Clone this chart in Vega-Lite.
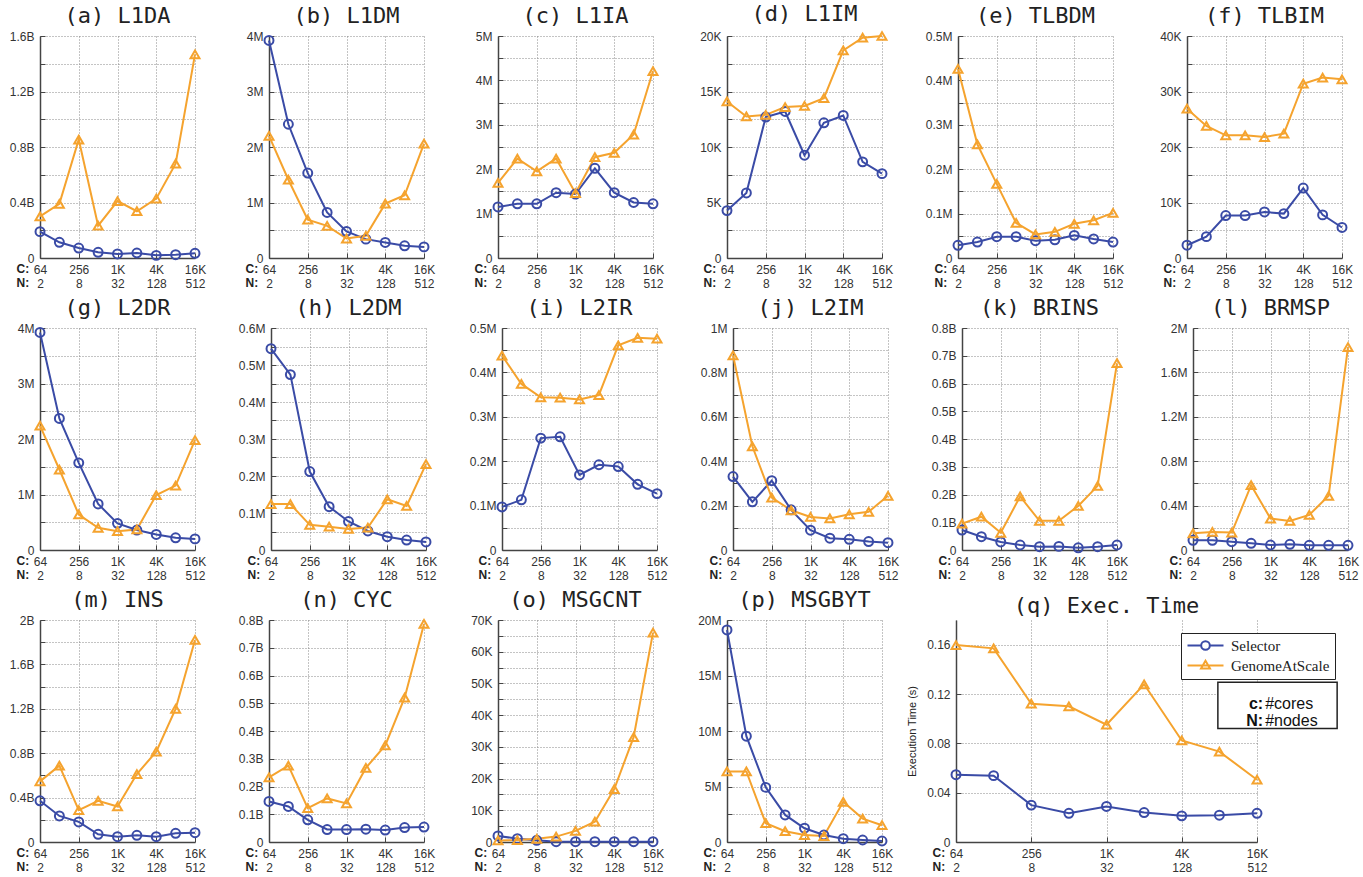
{
"$schema":"https://vega.github.io/schema/vega-lite/v6.json",
"padding":{"left":9,"top":3,"right":5,"bottom":2},
"background":"white",
"data":{"values":[
{"p":"a","s":"Selector","i":0,"v":1.9e8},{"p":"a","s":"Selector","i":1,"v":1.13e8},{"p":"a","s":"Selector","i":2,"v":7.2e7},{"p":"a","s":"Selector","i":3,"v":4.1e7},{"p":"a","s":"Selector","i":4,"v":2.9e7},{"p":"a","s":"Selector","i":5,"v":3.6e7},{"p":"a","s":"Selector","i":6,"v":1.9e7},{"p":"a","s":"Selector","i":7,"v":2.4e7},{"p":"a","s":"Selector","i":8,"v":3.4e7},
{"p":"a","s":"GenomeAtScale","i":0,"v":3.0e8},{"p":"a","s":"GenomeAtScale","i":1,"v":3.9e8},{"p":"a","s":"GenomeAtScale","i":2,"v":8.54e8},{"p":"a","s":"GenomeAtScale","i":3,"v":2.33e8},{"p":"a","s":"GenomeAtScale","i":4,"v":4.1e8},{"p":"a","s":"GenomeAtScale","i":5,"v":3.37e8},{"p":"a","s":"GenomeAtScale","i":6,"v":4.28e8},{"p":"a","s":"GenomeAtScale","i":7,"v":6.8e8},{"p":"a","s":"GenomeAtScale","i":8,"v":1.468e9},
{"p":"b","s":"Selector","i":0,"v":3.92e6},{"p":"b","s":"Selector","i":1,"v":2.41e6},{"p":"b","s":"Selector","i":2,"v":1.53e6},{"p":"b","s":"Selector","i":3,"v":8.2e5},{"p":"b","s":"Selector","i":4,"v":4.8e5},{"p":"b","s":"Selector","i":5,"v":3.4e5},{"p":"b","s":"Selector","i":6,"v":2.8e5},{"p":"b","s":"Selector","i":7,"v":2.2e5},{"p":"b","s":"Selector","i":8,"v":2.0e5},
{"p":"b","s":"GenomeAtScale","i":0,"v":2.2e6},{"p":"b","s":"GenomeAtScale","i":1,"v":1.41e6},{"p":"b","s":"GenomeAtScale","i":2,"v":6.9e5},{"p":"b","s":"GenomeAtScale","i":3,"v":5.8e5},{"p":"b","s":"GenomeAtScale","i":4,"v":3.5e5},{"p":"b","s":"GenomeAtScale","i":5,"v":4.0e5},{"p":"b","s":"GenomeAtScale","i":6,"v":9.8e5},{"p":"b","s":"GenomeAtScale","i":7,"v":1.13e6},{"p":"b","s":"GenomeAtScale","i":8,"v":2.06e6},
{"p":"c","s":"Selector","i":0,"v":1.15e6},{"p":"c","s":"Selector","i":1,"v":1.22e6},{"p":"c","s":"Selector","i":2,"v":1.22e6},{"p":"c","s":"Selector","i":3,"v":1.47e6},{"p":"c","s":"Selector","i":4,"v":1.44e6},{"p":"c","s":"Selector","i":5,"v":2.02e6},{"p":"c","s":"Selector","i":6,"v":1.47e6},{"p":"c","s":"Selector","i":7,"v":1.25e6},{"p":"c","s":"Selector","i":8,"v":1.22e6},
{"p":"c","s":"GenomeAtScale","i":0,"v":1.69e6},{"p":"c","s":"GenomeAtScale","i":1,"v":2.24e6},{"p":"c","s":"GenomeAtScale","i":2,"v":1.95e6},{"p":"c","s":"GenomeAtScale","i":3,"v":2.24e6},{"p":"c","s":"GenomeAtScale","i":4,"v":1.46e6},{"p":"c","s":"GenomeAtScale","i":5,"v":2.27e6},{"p":"c","s":"GenomeAtScale","i":6,"v":2.37e6},{"p":"c","s":"GenomeAtScale","i":7,"v":2.78e6},{"p":"c","s":"GenomeAtScale","i":8,"v":4.21e6},
{"p":"d","s":"Selector","i":0,"v":4270},{"p":"d","s":"Selector","i":1,"v":5860},{"p":"d","s":"Selector","i":2,"v":12700},{"p":"d","s":"Selector","i":3,"v":13200},{"p":"d","s":"Selector","i":4,"v":9260},{"p":"d","s":"Selector","i":5,"v":12180},{"p":"d","s":"Selector","i":6,"v":12840},{"p":"d","s":"Selector","i":7,"v":8660},{"p":"d","s":"Selector","i":8,"v":7600},
{"p":"d","s":"GenomeAtScale","i":0,"v":14100},{"p":"d","s":"GenomeAtScale","i":1,"v":12750},{"p":"d","s":"GenomeAtScale","i":2,"v":12900},{"p":"d","s":"GenomeAtScale","i":3,"v":13600},{"p":"d","s":"GenomeAtScale","i":4,"v":13700},{"p":"d","s":"GenomeAtScale","i":5,"v":14400},{"p":"d","s":"GenomeAtScale","i":6,"v":18700},{"p":"d","s":"GenomeAtScale","i":7,"v":19850},{"p":"d","s":"GenomeAtScale","i":8,"v":20000},
{"p":"e","s":"Selector","i":0,"v":28600},{"p":"e","s":"Selector","i":1,"v":36000},{"p":"e","s":"Selector","i":2,"v":48000},{"p":"e","s":"Selector","i":3,"v":48000},{"p":"e","s":"Selector","i":4,"v":39000},{"p":"e","s":"Selector","i":5,"v":41000},{"p":"e","s":"Selector","i":6,"v":51000},{"p":"e","s":"Selector","i":7,"v":43000},{"p":"e","s":"Selector","i":8,"v":36000},
{"p":"e","s":"GenomeAtScale","i":0,"v":426000},{"p":"e","s":"GenomeAtScale","i":1,"v":256000},{"p":"e","s":"GenomeAtScale","i":2,"v":167000},{"p":"e","s":"GenomeAtScale","i":3,"v":79000},{"p":"e","s":"GenomeAtScale","i":4,"v":53000},{"p":"e","s":"GenomeAtScale","i":5,"v":59000},{"p":"e","s":"GenomeAtScale","i":6,"v":77000},{"p":"e","s":"GenomeAtScale","i":7,"v":85000},{"p":"e","s":"GenomeAtScale","i":8,"v":101500},
{"p":"f","s":"Selector","i":0,"v":2300},{"p":"f","s":"Selector","i":1,"v":3850},{"p":"f","s":"Selector","i":2,"v":7650},{"p":"f","s":"Selector","i":3,"v":7650},{"p":"f","s":"Selector","i":4,"v":8300},{"p":"f","s":"Selector","i":5,"v":8000},{"p":"f","s":"Selector","i":6,"v":12600},{"p":"f","s":"Selector","i":7,"v":7770},{"p":"f","s":"Selector","i":8,"v":5500},
{"p":"f","s":"GenomeAtScale","i":0,"v":26900},{"p":"f","s":"GenomeAtScale","i":1,"v":23800},{"p":"f","s":"GenomeAtScale","i":2,"v":22100},{"p":"f","s":"GenomeAtScale","i":3,"v":22100},{"p":"f","s":"GenomeAtScale","i":4,"v":21800},{"p":"f","s":"GenomeAtScale","i":5,"v":22400},{"p":"f","s":"GenomeAtScale","i":6,"v":31400},{"p":"f","s":"GenomeAtScale","i":7,"v":32500},{"p":"f","s":"GenomeAtScale","i":8,"v":32200},
{"p":"g","s":"Selector","i":0,"v":3.92e6},{"p":"g","s":"Selector","i":1,"v":2.37e6},{"p":"g","s":"Selector","i":2,"v":1.57e6},{"p":"g","s":"Selector","i":3,"v":8.3e5},{"p":"g","s":"Selector","i":4,"v":4.8e5},{"p":"g","s":"Selector","i":5,"v":3.6e5},{"p":"g","s":"Selector","i":6,"v":2.8e5},{"p":"g","s":"Selector","i":7,"v":2.2e5},{"p":"g","s":"Selector","i":8,"v":2.0e5},
{"p":"g","s":"GenomeAtScale","i":0,"v":2.24e6},{"p":"g","s":"GenomeAtScale","i":1,"v":1.45e6},{"p":"g","s":"GenomeAtScale","i":2,"v":6.4e5},{"p":"g","s":"GenomeAtScale","i":3,"v":4.0e5},{"p":"g","s":"GenomeAtScale","i":4,"v":3.4e5},{"p":"g","s":"GenomeAtScale","i":5,"v":3.7e5},{"p":"g","s":"GenomeAtScale","i":6,"v":9.9e5},{"p":"g","s":"GenomeAtScale","i":7,"v":1.16e6},{"p":"g","s":"GenomeAtScale","i":8,"v":1.98e6},
{"p":"h","s":"Selector","i":0,"v":544000},{"p":"h","s":"Selector","i":1,"v":474000},{"p":"h","s":"Selector","i":2,"v":212000},{"p":"h","s":"Selector","i":3,"v":117000},{"p":"h","s":"Selector","i":4,"v":77000},{"p":"h","s":"Selector","i":5,"v":51500},{"p":"h","s":"Selector","i":6,"v":36000},{"p":"h","s":"Selector","i":7,"v":27000},{"p":"h","s":"Selector","i":8,"v":21700},
{"p":"h","s":"GenomeAtScale","i":0,"v":124000},{"p":"h","s":"GenomeAtScale","i":1,"v":124000},{"p":"h","s":"GenomeAtScale","i":2,"v":68000},{"p":"h","s":"GenomeAtScale","i":3,"v":63000},{"p":"h","s":"GenomeAtScale","i":4,"v":57000},{"p":"h","s":"GenomeAtScale","i":5,"v":60500},{"p":"h","s":"GenomeAtScale","i":6,"v":137000},{"p":"h","s":"GenomeAtScale","i":7,"v":119000},{"p":"h","s":"GenomeAtScale","i":8,"v":232000},
{"p":"i","s":"Selector","i":0,"v":97000},{"p":"i","s":"Selector","i":1,"v":113000},{"p":"i","s":"Selector","i":2,"v":252000},{"p":"i","s":"Selector","i":3,"v":255000},{"p":"i","s":"Selector","i":4,"v":169000},{"p":"i","s":"Selector","i":5,"v":192000},{"p":"i","s":"Selector","i":6,"v":188000},{"p":"i","s":"Selector","i":7,"v":148000},{"p":"i","s":"Selector","i":8,"v":127000},
{"p":"i","s":"GenomeAtScale","i":0,"v":438000},{"p":"i","s":"GenomeAtScale","i":1,"v":374000},{"p":"i","s":"GenomeAtScale","i":2,"v":344000},{"p":"i","s":"GenomeAtScale","i":3,"v":343000},{"p":"i","s":"GenomeAtScale","i":4,"v":339000},{"p":"i","s":"GenomeAtScale","i":5,"v":349000},{"p":"i","s":"GenomeAtScale","i":6,"v":461000},{"p":"i","s":"GenomeAtScale","i":7,"v":478000},{"p":"i","s":"GenomeAtScale","i":8,"v":476000},
{"p":"j","s":"Selector","i":0,"v":331000},{"p":"j","s":"Selector","i":1,"v":217000},{"p":"j","s":"Selector","i":2,"v":312000},{"p":"j","s":"Selector","i":3,"v":181000},{"p":"j","s":"Selector","i":4,"v":89000},{"p":"j","s":"Selector","i":5,"v":53000},{"p":"j","s":"Selector","i":6,"v":48000},{"p":"j","s":"Selector","i":7,"v":38000},{"p":"j","s":"Selector","i":8,"v":33000},
{"p":"j","s":"GenomeAtScale","i":0,"v":877000},{"p":"j","s":"GenomeAtScale","i":1,"v":467000},{"p":"j","s":"GenomeAtScale","i":2,"v":236000},{"p":"j","s":"GenomeAtScale","i":3,"v":179000},{"p":"j","s":"GenomeAtScale","i":4,"v":149000},{"p":"j","s":"GenomeAtScale","i":5,"v":142000},{"p":"j","s":"GenomeAtScale","i":6,"v":161000},{"p":"j","s":"GenomeAtScale","i":7,"v":172000},{"p":"j","s":"GenomeAtScale","i":8,"v":244000},
{"p":"k","s":"Selector","i":0,"v":7.2e7},{"p":"k","s":"Selector","i":1,"v":4.8e7},{"p":"k","s":"Selector","i":2,"v":2.9e7},{"p":"k","s":"Selector","i":3,"v":1.8e7},{"p":"k","s":"Selector","i":4,"v":1.2e7},{"p":"k","s":"Selector","i":5,"v":1.3e7},{"p":"k","s":"Selector","i":6,"v":8e6},{"p":"k","s":"Selector","i":7,"v":1.2e7},{"p":"k","s":"Selector","i":8,"v":1.8e7},
{"p":"k","s":"GenomeAtScale","i":0,"v":9.5e7},{"p":"k","s":"GenomeAtScale","i":1,"v":1.2e8},{"p":"k","s":"GenomeAtScale","i":2,"v":6.2e7},{"p":"k","s":"GenomeAtScale","i":3,"v":1.93e8},{"p":"k","s":"GenomeAtScale","i":4,"v":1.05e8},{"p":"k","s":"GenomeAtScale","i":5,"v":1.05e8},{"p":"k","s":"GenomeAtScale","i":6,"v":1.59e8},{"p":"k","s":"GenomeAtScale","i":7,"v":2.31e8},{"p":"k","s":"GenomeAtScale","i":8,"v":6.73e8},
{"p":"l","s":"Selector","i":0,"v":87000},{"p":"l","s":"Selector","i":1,"v":87000},{"p":"l","s":"Selector","i":2,"v":75000},{"p":"l","s":"Selector","i":3,"v":60000},{"p":"l","s":"Selector","i":4,"v":45000},{"p":"l","s":"Selector","i":5,"v":51000},{"p":"l","s":"Selector","i":6,"v":42000},{"p":"l","s":"Selector","i":7,"v":42000},{"p":"l","s":"Selector","i":8,"v":42000},
{"p":"l","s":"GenomeAtScale","i":0,"v":150000},{"p":"l","s":"GenomeAtScale","i":1,"v":163000},{"p":"l","s":"GenomeAtScale","i":2,"v":157000},{"p":"l","s":"GenomeAtScale","i":3,"v":584000},{"p":"l","s":"GenomeAtScale","i":4,"v":283000},{"p":"l","s":"GenomeAtScale","i":5,"v":262000},{"p":"l","s":"GenomeAtScale","i":6,"v":316000},{"p":"l","s":"GenomeAtScale","i":7,"v":488000},{"p":"l","s":"GenomeAtScale","i":8,"v":1828000},
{"p":"m","s":"Selector","i":0,"v":3.71e8},{"p":"m","s":"Selector","i":1,"v":2.35e8},{"p":"m","s":"Selector","i":2,"v":1.81e8},{"p":"m","s":"Selector","i":3,"v":6.9e7},{"p":"m","s":"Selector","i":4,"v":4.8e7},{"p":"m","s":"Selector","i":5,"v":6.0e7},{"p":"m","s":"Selector","i":6,"v":4.8e7},{"p":"m","s":"Selector","i":7,"v":7.8e7},{"p":"m","s":"Selector","i":8,"v":8.4e7},
{"p":"m","s":"GenomeAtScale","i":0,"v":5.46e8},{"p":"m","s":"GenomeAtScale","i":1,"v":6.88e8},{"p":"m","s":"GenomeAtScale","i":2,"v":2.87e8},{"p":"m","s":"GenomeAtScale","i":3,"v":3.71e8},{"p":"m","s":"GenomeAtScale","i":4,"v":3.2e8},{"p":"m","s":"GenomeAtScale","i":5,"v":6.12e8},{"p":"m","s":"GenomeAtScale","i":6,"v":8.14e8},{"p":"m","s":"GenomeAtScale","i":7,"v":1.2e9},{"p":"m","s":"GenomeAtScale","i":8,"v":1.82e9},
{"p":"n","s":"Selector","i":0,"v":1.46e8},{"p":"n","s":"Selector","i":1,"v":1.28e8},{"p":"n","s":"Selector","i":2,"v":8.0e7},{"p":"n","s":"Selector","i":3,"v":4.5e7},{"p":"n","s":"Selector","i":4,"v":4.5e7},{"p":"n","s":"Selector","i":5,"v":4.6e7},{"p":"n","s":"Selector","i":6,"v":4.3e7},{"p":"n","s":"Selector","i":7,"v":5.2e7},{"p":"n","s":"Selector","i":8,"v":5.4e7},
{"p":"n","s":"GenomeAtScale","i":0,"v":2.33e8},{"p":"n","s":"GenomeAtScale","i":1,"v":2.75e8},{"p":"n","s":"GenomeAtScale","i":2,"v":1.22e8},{"p":"n","s":"GenomeAtScale","i":3,"v":1.57e8},{"p":"n","s":"GenomeAtScale","i":4,"v":1.39e8},{"p":"n","s":"GenomeAtScale","i":5,"v":2.67e8},{"p":"n","s":"GenomeAtScale","i":6,"v":3.48e8},{"p":"n","s":"GenomeAtScale","i":7,"v":5.2e8},{"p":"n","s":"GenomeAtScale","i":8,"v":7.86e8},
{"p":"o","s":"Selector","i":0,"v":1900},{"p":"o","s":"Selector","i":1,"v":1060},{"p":"o","s":"Selector","i":2,"v":530},{"p":"o","s":"Selector","i":3,"v":100},{"p":"o","s":"Selector","i":4,"v":100},{"p":"o","s":"Selector","i":5,"v":100},{"p":"o","s":"Selector","i":6,"v":100},{"p":"o","s":"Selector","i":7,"v":100},{"p":"o","s":"Selector","i":8,"v":100},
{"p":"o","s":"GenomeAtScale","i":0,"v":500},{"p":"o","s":"GenomeAtScale","i":1,"v":600},{"p":"o","s":"GenomeAtScale","i":2,"v":1000},{"p":"o","s":"GenomeAtScale","i":3,"v":1700},{"p":"o","s":"GenomeAtScale","i":4,"v":3500},{"p":"o","s":"GenomeAtScale","i":5,"v":6400},{"p":"o","s":"GenomeAtScale","i":6,"v":16700},{"p":"o","s":"GenomeAtScale","i":7,"v":33050},{"p":"o","s":"GenomeAtScale","i":8,"v":66000},
{"p":"p","s":"Selector","i":0,"v":1.91e7},{"p":"p","s":"Selector","i":1,"v":9.53e6},{"p":"p","s":"Selector","i":2,"v":4.92e6},{"p":"p","s":"Selector","i":3,"v":2.44e6},{"p":"p","s":"Selector","i":4,"v":1.24e6},{"p":"p","s":"Selector","i":5,"v":6.3e5},{"p":"p","s":"Selector","i":6,"v":3.0e5},{"p":"p","s":"Selector","i":7,"v":1.8e5},{"p":"p","s":"Selector","i":8,"v":9e4},
{"p":"p","s":"GenomeAtScale","i":0,"v":6.36e6},{"p":"p","s":"GenomeAtScale","i":1,"v":6.36e6},{"p":"p","s":"GenomeAtScale","i":2,"v":1.69e6},{"p":"p","s":"GenomeAtScale","i":3,"v":9.7e5},{"p":"p","s":"GenomeAtScale","i":4,"v":6.3e5},{"p":"p","s":"GenomeAtScale","i":5,"v":5.4e5},{"p":"p","s":"GenomeAtScale","i":6,"v":3.62e6},{"p":"p","s":"GenomeAtScale","i":7,"v":2.11e6},{"p":"p","s":"GenomeAtScale","i":8,"v":1.51e6},
{"p":"q","s":"Selector","i":0,"v":0.0546},{"p":"q","s":"Selector","i":1,"v":0.0538},{"p":"q","s":"Selector","i":2,"v":0.0299},{"p":"q","s":"Selector","i":3,"v":0.0233},{"p":"q","s":"Selector","i":4,"v":0.0288},{"p":"q","s":"Selector","i":5,"v":0.0239},{"p":"q","s":"Selector","i":6,"v":0.0212},{"p":"q","s":"Selector","i":7,"v":0.0217},{"p":"q","s":"Selector","i":8,"v":0.0233},
{"p":"q","s":"GenomeAtScale","i":0,"v":0.1597},{"p":"q","s":"GenomeAtScale","i":1,"v":0.157},{"p":"q","s":"GenomeAtScale","i":2,"v":0.1121},{"p":"q","s":"GenomeAtScale","i":3,"v":0.11},{"p":"q","s":"GenomeAtScale","i":4,"v":0.0951},{"p":"q","s":"GenomeAtScale","i":5,"v":0.1279},{"p":"q","s":"GenomeAtScale","i":6,"v":0.0823},{"p":"q","s":"GenomeAtScale","i":7,"v":0.0733},{"p":"q","s":"GenomeAtScale","i":8,"v":0.0505}
]},
"spacing":8,
"resolve":{"scale":{"color":"independent","shape":"independent"},"legend":{"color":"independent","shape":"independent"}},
"vconcat":[
{"hconcat":[
{"title":"(a) L1DA","width":155,"height":222,"transform":[{"filter":"datum.p=='a'"}],
"encoding":{"x":{"field":"i","type":"quantitative","scale":{"domain":[0,8],"nice":false},"axis":{"values":[0,2,4,6,8],"labelExpr":"datum.value==0?['64','2']:datum.value==2?['256','8']:datum.value==4?['1K','32']:datum.value==6?['4K','128']:['16K','512']","title":["C:","N:"]}},
"y":{"field":"v","type":"quantitative","scale":{"domain":[0,1600000000],"nice":false},"axis":{"title":null,"values":[0,200000000,400000000,600000000,800000000,1000000000,1200000000,1400000000,1600000000],"labelExpr":"datum.value % 400000000 == 0 ? (datum.value == 0 ? '0' : format(datum.value/1000000000,'~g') + 'B') : ''"}},
"color":{"field":"s","type":"nominal","scale":{"domain":["Selector","GenomeAtScale"],"range":["#3a4ba6","#f5a32e"]},"legend":null}},
"layer":[{"mark":{"type":"line","strokeWidth":2}},{"mark":{"type":"point","filled":false,"strokeWidth":2,"size":80,"opacity":1},"encoding":{"shape":{"field":"s","type":"nominal","scale":{"domain":["Selector","GenomeAtScale"],"range":["circle","triangle-up"]},"legend":null}}}]},
{"title":"(b) L1DM","width":155,"height":222,"transform":[{"filter":"datum.p=='b'"}],
"encoding":{"x":{"field":"i","type":"quantitative","scale":{"domain":[0,8],"nice":false},"axis":{"values":[0,2,4,6,8],"labelExpr":"datum.value==0?['64','2']:datum.value==2?['256','8']:datum.value==4?['1K','32']:datum.value==6?['4K','128']:['16K','512']","title":["C:","N:"]}},
"y":{"field":"v","type":"quantitative","scale":{"domain":[0,4000000],"nice":false},"axis":{"title":null,"values":[0,500000,1000000,1500000,2000000,2500000,3000000,3500000,4000000],"labelExpr":"datum.value % 1000000 == 0 ? (datum.value == 0 ? '0' : format(datum.value/1000000,'~g') + 'M') : ''"}},
"color":{"field":"s","type":"nominal","scale":{"domain":["Selector","GenomeAtScale"],"range":["#3a4ba6","#f5a32e"]},"legend":null}},
"layer":[{"mark":{"type":"line","strokeWidth":2}},{"mark":{"type":"point","filled":false,"strokeWidth":2,"size":80,"opacity":1},"encoding":{"shape":{"field":"s","type":"nominal","scale":{"domain":["Selector","GenomeAtScale"],"range":["circle","triangle-up"]},"legend":null}}}]},
{"title":"(c) L1IA","width":155,"height":222,"transform":[{"filter":"datum.p=='c'"}],
"encoding":{"x":{"field":"i","type":"quantitative","scale":{"domain":[0,8],"nice":false},"axis":{"values":[0,2,4,6,8],"labelExpr":"datum.value==0?['64','2']:datum.value==2?['256','8']:datum.value==4?['1K','32']:datum.value==6?['4K','128']:['16K','512']","title":["C:","N:"]}},
"y":{"field":"v","type":"quantitative","scale":{"domain":[0,5000000],"nice":false},"axis":{"title":null,"values":[0,500000,1000000,1500000,2000000,2500000,3000000,3500000,4000000,4500000,5000000],"labelExpr":"datum.value % 1000000 == 0 ? (datum.value == 0 ? '0' : format(datum.value/1000000,'~g') + 'M') : ''"}},
"color":{"field":"s","type":"nominal","scale":{"domain":["Selector","GenomeAtScale"],"range":["#3a4ba6","#f5a32e"]},"legend":null}},
"layer":[{"mark":{"type":"line","strokeWidth":2}},{"mark":{"type":"point","filled":false,"strokeWidth":2,"size":80,"opacity":1},"encoding":{"shape":{"field":"s","type":"nominal","scale":{"domain":["Selector","GenomeAtScale"],"range":["circle","triangle-up"]},"legend":null}}}]},
{"title":"(d) L1IM","width":155,"height":222,"transform":[{"filter":"datum.p=='d'"}],
"encoding":{"x":{"field":"i","type":"quantitative","scale":{"domain":[0,8],"nice":false},"axis":{"values":[0,2,4,6,8],"labelExpr":"datum.value==0?['64','2']:datum.value==2?['256','8']:datum.value==4?['1K','32']:datum.value==6?['4K','128']:['16K','512']","title":["C:","N:"]}},
"y":{"field":"v","type":"quantitative","scale":{"domain":[0,20000],"nice":false},"axis":{"title":null,"values":[0,2500,5000,7500,10000,12500,15000,17500,20000],"labelExpr":"datum.value % 5000 == 0 ? (datum.value == 0 ? '0' : format(datum.value/1000,'~g') + 'K') : ''"}},
"color":{"field":"s","type":"nominal","scale":{"domain":["Selector","GenomeAtScale"],"range":["#3a4ba6","#f5a32e"]},"legend":null}},
"layer":[{"mark":{"type":"line","strokeWidth":2}},{"mark":{"type":"point","filled":false,"strokeWidth":2,"size":80,"opacity":1},"encoding":{"shape":{"field":"s","type":"nominal","scale":{"domain":["Selector","GenomeAtScale"],"range":["circle","triangle-up"]},"legend":null}}}]},
{"title":"(e) TLBDM","width":155,"height":222,"transform":[{"filter":"datum.p=='e'"}],
"encoding":{"x":{"field":"i","type":"quantitative","scale":{"domain":[0,8],"nice":false},"axis":{"values":[0,2,4,6,8],"labelExpr":"datum.value==0?['64','2']:datum.value==2?['256','8']:datum.value==4?['1K','32']:datum.value==6?['4K','128']:['16K','512']","title":["C:","N:"]}},
"y":{"field":"v","type":"quantitative","scale":{"domain":[0,500000],"nice":false},"axis":{"title":null,"values":[0,50000,100000,150000,200000,250000,300000,350000,400000,450000,500000],"labelExpr":"datum.value % 100000 == 0 ? (datum.value == 0 ? '0' : format(datum.value/1000000,'~g') + 'M') : ''"}},
"color":{"field":"s","type":"nominal","scale":{"domain":["Selector","GenomeAtScale"],"range":["#3a4ba6","#f5a32e"]},"legend":null}},
"layer":[{"mark":{"type":"line","strokeWidth":2}},{"mark":{"type":"point","filled":false,"strokeWidth":2,"size":80,"opacity":1},"encoding":{"shape":{"field":"s","type":"nominal","scale":{"domain":["Selector","GenomeAtScale"],"range":["circle","triangle-up"]},"legend":null}}}]},
{"title":"(f) TLBIM","width":155,"height":222,"transform":[{"filter":"datum.p=='f'"}],
"encoding":{"x":{"field":"i","type":"quantitative","scale":{"domain":[0,8],"nice":false},"axis":{"values":[0,2,4,6,8],"labelExpr":"datum.value==0?['64','2']:datum.value==2?['256','8']:datum.value==4?['1K','32']:datum.value==6?['4K','128']:['16K','512']","title":["C:","N:"]}},
"y":{"field":"v","type":"quantitative","scale":{"domain":[0,40000],"nice":false},"axis":{"title":null,"values":[0,5000,10000,15000,20000,25000,30000,35000,40000],"labelExpr":"datum.value % 10000 == 0 ? (datum.value == 0 ? '0' : format(datum.value/1000,'~g') + 'K') : ''"}},
"color":{"field":"s","type":"nominal","scale":{"domain":["Selector","GenomeAtScale"],"range":["#3a4ba6","#f5a32e"]},"legend":null}},
"layer":[{"mark":{"type":"line","strokeWidth":2}},{"mark":{"type":"point","filled":false,"strokeWidth":2,"size":80,"opacity":1},"encoding":{"shape":{"field":"s","type":"nominal","scale":{"domain":["Selector","GenomeAtScale"],"range":["circle","triangle-up"]},"legend":null}}}]}
],"spacing":32,"resolve":{"scale":{"color":"independent","shape":"independent"},"legend":{"color":"independent","shape":"independent"}}},
{"hconcat":[
{"title":"(g) L2DR","width":155,"height":222,"transform":[{"filter":"datum.p=='g'"}],
"encoding":{"x":{"field":"i","type":"quantitative","scale":{"domain":[0,8],"nice":false},"axis":{"values":[0,2,4,6,8],"labelExpr":"datum.value==0?['64','2']:datum.value==2?['256','8']:datum.value==4?['1K','32']:datum.value==6?['4K','128']:['16K','512']","title":["C:","N:"]}},
"y":{"field":"v","type":"quantitative","scale":{"domain":[0,4000000],"nice":false},"axis":{"title":null,"values":[0,500000,1000000,1500000,2000000,2500000,3000000,3500000,4000000],"labelExpr":"datum.value % 1000000 == 0 ? (datum.value == 0 ? '0' : format(datum.value/1000000,'~g') + 'M') : ''"}},
"color":{"field":"s","type":"nominal","scale":{"domain":["Selector","GenomeAtScale"],"range":["#3a4ba6","#f5a32e"]},"legend":null}},
"layer":[{"mark":{"type":"line","strokeWidth":2}},{"mark":{"type":"point","filled":false,"strokeWidth":2,"size":80,"opacity":1},"encoding":{"shape":{"field":"s","type":"nominal","scale":{"domain":["Selector","GenomeAtScale"],"range":["circle","triangle-up"]},"legend":null}}}]},
{"title":"(h) L2DM","width":155,"height":222,"transform":[{"filter":"datum.p=='h'"}],
"encoding":{"x":{"field":"i","type":"quantitative","scale":{"domain":[0,8],"nice":false},"axis":{"values":[0,2,4,6,8],"labelExpr":"datum.value==0?['64','2']:datum.value==2?['256','8']:datum.value==4?['1K','32']:datum.value==6?['4K','128']:['16K','512']","title":["C:","N:"]}},
"y":{"field":"v","type":"quantitative","scale":{"domain":[0,600000],"nice":false},"axis":{"title":null,"values":[0,50000,100000,150000,200000,250000,300000,350000,400000,450000,500000,550000,600000],"labelExpr":"datum.value % 100000 == 0 ? (datum.value == 0 ? '0' : format(datum.value/1000000,'~g') + 'M') : ''"}},
"color":{"field":"s","type":"nominal","scale":{"domain":["Selector","GenomeAtScale"],"range":["#3a4ba6","#f5a32e"]},"legend":null}},
"layer":[{"mark":{"type":"line","strokeWidth":2}},{"mark":{"type":"point","filled":false,"strokeWidth":2,"size":80,"opacity":1},"encoding":{"shape":{"field":"s","type":"nominal","scale":{"domain":["Selector","GenomeAtScale"],"range":["circle","triangle-up"]},"legend":null}}}]},
{"title":"(i) L2IR","width":155,"height":222,"transform":[{"filter":"datum.p=='i'"}],
"encoding":{"x":{"field":"i","type":"quantitative","scale":{"domain":[0,8],"nice":false},"axis":{"values":[0,2,4,6,8],"labelExpr":"datum.value==0?['64','2']:datum.value==2?['256','8']:datum.value==4?['1K','32']:datum.value==6?['4K','128']:['16K','512']","title":["C:","N:"]}},
"y":{"field":"v","type":"quantitative","scale":{"domain":[0,500000],"nice":false},"axis":{"title":null,"values":[0,50000,100000,150000,200000,250000,300000,350000,400000,450000,500000],"labelExpr":"datum.value % 100000 == 0 ? (datum.value == 0 ? '0' : format(datum.value/1000000,'~g') + 'M') : ''"}},
"color":{"field":"s","type":"nominal","scale":{"domain":["Selector","GenomeAtScale"],"range":["#3a4ba6","#f5a32e"]},"legend":null}},
"layer":[{"mark":{"type":"line","strokeWidth":2}},{"mark":{"type":"point","filled":false,"strokeWidth":2,"size":80,"opacity":1},"encoding":{"shape":{"field":"s","type":"nominal","scale":{"domain":["Selector","GenomeAtScale"],"range":["circle","triangle-up"]},"legend":null}}}]},
{"title":"(j) L2IM","width":155,"height":222,"transform":[{"filter":"datum.p=='j'"}],
"encoding":{"x":{"field":"i","type":"quantitative","scale":{"domain":[0,8],"nice":false},"axis":{"values":[0,2,4,6,8],"labelExpr":"datum.value==0?['64','2']:datum.value==2?['256','8']:datum.value==4?['1K','32']:datum.value==6?['4K','128']:['16K','512']","title":["C:","N:"]}},
"y":{"field":"v","type":"quantitative","scale":{"domain":[0,1000000],"nice":false},"axis":{"title":null,"values":[0,100000,200000,300000,400000,500000,600000,700000,800000,900000,1000000],"labelExpr":"datum.value % 200000 == 0 ? (datum.value == 0 ? '0' : format(datum.value/1000000,'~g') + 'M') : ''"}},
"color":{"field":"s","type":"nominal","scale":{"domain":["Selector","GenomeAtScale"],"range":["#3a4ba6","#f5a32e"]},"legend":null}},
"layer":[{"mark":{"type":"line","strokeWidth":2}},{"mark":{"type":"point","filled":false,"strokeWidth":2,"size":80,"opacity":1},"encoding":{"shape":{"field":"s","type":"nominal","scale":{"domain":["Selector","GenomeAtScale"],"range":["circle","triangle-up"]},"legend":null}}}]},
{"title":"(k) BRINS","width":155,"height":222,"transform":[{"filter":"datum.p=='k'"}],
"encoding":{"x":{"field":"i","type":"quantitative","scale":{"domain":[0,8],"nice":false},"axis":{"values":[0,2,4,6,8],"labelExpr":"datum.value==0?['64','2']:datum.value==2?['256','8']:datum.value==4?['1K','32']:datum.value==6?['4K','128']:['16K','512']","title":["C:","N:"]}},
"y":{"field":"v","type":"quantitative","scale":{"domain":[0,800000000],"nice":false},"axis":{"title":null,"values":[0,100000000,200000000,300000000,400000000,500000000,600000000,700000000,800000000],"labelExpr":"datum.value == 0 ? '0' : format(datum.value/1000000000,'~g') + 'B'"}},
"color":{"field":"s","type":"nominal","scale":{"domain":["Selector","GenomeAtScale"],"range":["#3a4ba6","#f5a32e"]},"legend":null}},
"layer":[{"mark":{"type":"line","strokeWidth":2}},{"mark":{"type":"point","filled":false,"strokeWidth":2,"size":80,"opacity":1},"encoding":{"shape":{"field":"s","type":"nominal","scale":{"domain":["Selector","GenomeAtScale"],"range":["circle","triangle-up"]},"legend":null}}}]},
{"title":"(l) BRMSP","width":155,"height":222,"transform":[{"filter":"datum.p=='l'"}],
"encoding":{"x":{"field":"i","type":"quantitative","scale":{"domain":[0,8],"nice":false},"axis":{"values":[0,2,4,6,8],"labelExpr":"datum.value==0?['64','2']:datum.value==2?['256','8']:datum.value==4?['1K','32']:datum.value==6?['4K','128']:['16K','512']","title":["C:","N:"]}},
"y":{"field":"v","type":"quantitative","scale":{"domain":[0,2000000],"nice":false},"axis":{"title":null,"values":[0,200000,400000,600000,800000,1000000,1200000,1400000,1600000,1800000,2000000],"labelExpr":"datum.value % 400000 == 0 ? (datum.value == 0 ? '0' : format(datum.value/1000000,'~g') + 'M') : ''"}},
"color":{"field":"s","type":"nominal","scale":{"domain":["Selector","GenomeAtScale"],"range":["#3a4ba6","#f5a32e"]},"legend":null}},
"layer":[{"mark":{"type":"line","strokeWidth":2}},{"mark":{"type":"point","filled":false,"strokeWidth":2,"size":80,"opacity":1},"encoding":{"shape":{"field":"s","type":"nominal","scale":{"domain":["Selector","GenomeAtScale"],"range":["circle","triangle-up"]},"legend":null}}}]}
],"spacing":32,"resolve":{"scale":{"color":"independent","shape":"independent"},"legend":{"color":"independent","shape":"independent"}}},
{"hconcat":[
{"hconcat":[
{"title":"(m) INS","width":155,"height":222,"transform":[{"filter":"datum.p=='m'"}],
"encoding":{"x":{"field":"i","type":"quantitative","scale":{"domain":[0,8],"nice":false},"axis":{"values":[0,2,4,6,8],"labelExpr":"datum.value==0?['64','2']:datum.value==2?['256','8']:datum.value==4?['1K','32']:datum.value==6?['4K','128']:['16K','512']","title":["C:","N:"]}},
"y":{"field":"v","type":"quantitative","scale":{"domain":[0,2000000000],"nice":false},"axis":{"title":null,"values":[0,200000000,400000000,600000000,800000000,1000000000,1200000000,1400000000,1600000000,1800000000,2000000000],"labelExpr":"datum.value % 400000000 == 0 ? (datum.value == 0 ? '0' : format(datum.value/1000000000,'~g') + 'B') : ''"}},
"color":{"field":"s","type":"nominal","scale":{"domain":["Selector","GenomeAtScale"],"range":["#3a4ba6","#f5a32e"]},"legend":null}},
"layer":[{"mark":{"type":"line","strokeWidth":2}},{"mark":{"type":"point","filled":false,"strokeWidth":2,"size":80,"opacity":1},"encoding":{"shape":{"field":"s","type":"nominal","scale":{"domain":["Selector","GenomeAtScale"],"range":["circle","triangle-up"]},"legend":null}}}]},
{"title":"(n) CYC","width":155,"height":222,"transform":[{"filter":"datum.p=='n'"}],
"encoding":{"x":{"field":"i","type":"quantitative","scale":{"domain":[0,8],"nice":false},"axis":{"values":[0,2,4,6,8],"labelExpr":"datum.value==0?['64','2']:datum.value==2?['256','8']:datum.value==4?['1K','32']:datum.value==6?['4K','128']:['16K','512']","title":["C:","N:"]}},
"y":{"field":"v","type":"quantitative","scale":{"domain":[0,800000000],"nice":false},"axis":{"title":null,"values":[0,100000000,200000000,300000000,400000000,500000000,600000000,700000000,800000000],"labelExpr":"datum.value == 0 ? '0' : format(datum.value/1000000000,'~g') + 'B'"}},
"color":{"field":"s","type":"nominal","scale":{"domain":["Selector","GenomeAtScale"],"range":["#3a4ba6","#f5a32e"]},"legend":null}},
"layer":[{"mark":{"type":"line","strokeWidth":2}},{"mark":{"type":"point","filled":false,"strokeWidth":2,"size":80,"opacity":1},"encoding":{"shape":{"field":"s","type":"nominal","scale":{"domain":["Selector","GenomeAtScale"],"range":["circle","triangle-up"]},"legend":null}}}]},
{"title":"(o) MSGCNT","width":155,"height":222,"transform":[{"filter":"datum.p=='o'"}],
"encoding":{"x":{"field":"i","type":"quantitative","scale":{"domain":[0,8],"nice":false},"axis":{"values":[0,2,4,6,8],"labelExpr":"datum.value==0?['64','2']:datum.value==2?['256','8']:datum.value==4?['1K','32']:datum.value==6?['4K','128']:['16K','512']","title":["C:","N:"]}},
"y":{"field":"v","type":"quantitative","scale":{"domain":[0,70000],"nice":false},"axis":{"title":null,"values":[0,5000,10000,15000,20000,25000,30000,35000,40000,45000,50000,55000,60000,65000,70000],"labelExpr":"datum.value % 10000 == 0 ? (datum.value == 0 ? '0' : format(datum.value/1000,'~g') + 'K') : ''"}},
"color":{"field":"s","type":"nominal","scale":{"domain":["Selector","GenomeAtScale"],"range":["#3a4ba6","#f5a32e"]},"legend":null}},
"layer":[{"mark":{"type":"line","strokeWidth":2}},{"mark":{"type":"point","filled":false,"strokeWidth":2,"size":80,"opacity":1},"encoding":{"shape":{"field":"s","type":"nominal","scale":{"domain":["Selector","GenomeAtScale"],"range":["circle","triangle-up"]},"legend":null}}}]},
{"title":"(p) MSGBYT","width":155,"height":222,"transform":[{"filter":"datum.p=='p'"}],
"encoding":{"x":{"field":"i","type":"quantitative","scale":{"domain":[0,8],"nice":false},"axis":{"values":[0,2,4,6,8],"labelExpr":"datum.value==0?['64','2']:datum.value==2?['256','8']:datum.value==4?['1K','32']:datum.value==6?['4K','128']:['16K','512']","title":["C:","N:"]}},
"y":{"field":"v","type":"quantitative","scale":{"domain":[0,20000000],"nice":false},"axis":{"title":null,"values":[0,2500000,5000000,7500000,10000000,12500000,15000000,17500000,20000000],"labelExpr":"datum.value % 5000000 == 0 ? (datum.value == 0 ? '0' : format(datum.value/1000000,'~g') + 'M') : ''"}},
"color":{"field":"s","type":"nominal","scale":{"domain":["Selector","GenomeAtScale"],"range":["#3a4ba6","#f5a32e"]},"legend":null}},
"layer":[{"mark":{"type":"line","strokeWidth":2}},{"mark":{"type":"point","filled":false,"strokeWidth":2,"size":80,"opacity":1},"encoding":{"shape":{"field":"s","type":"nominal","scale":{"domain":["Selector","GenomeAtScale"],"range":["circle","triangle-up"]},"legend":null}}}]}
],"spacing":32,"resolve":{"scale":{"color":"independent","shape":"independent"},"legend":{"color":"independent","shape":"independent"}}},
{"title":"(q) Exec. Time","width":301,"height":222,
"resolve":{"scale":{"color":"independent","shape":"independent"},"legend":{"color":"independent","shape":"independent"}},
"layer":[
{"transform":[{"filter":"datum.p=='q'"}],"mark":{"type":"line","strokeWidth":2},
"encoding":{"x":{"field":"i","type":"quantitative","scale":{"domain":[0,8],"nice":false},"axis":{"values":[0,2,4,6,8],"labelExpr":"datum.value==0?['64','2']:datum.value==2?['256','8']:datum.value==4?['1K','32']:datum.value==6?['4K','128']:['16K','512']","title":["C:","N:"]}},
"y":{"field":"v","type":"quantitative","scale":{"domain":[0,0.18],"nice":false},"axis":{"values":[0,0.01,0.02,0.03,0.04,0.05,0.06,0.07,0.08,0.09,0.1,0.11,0.12,0.13,0.14,0.15,0.16,0.17,0.18],"labelExpr":"round(datum.value*100) % 2 == 0 ? format(datum.value,'~g') : ''","title":"Execution Time (s)","titleFontWeight":"normal","titleFontSize":11,"titlePadding":8,"titleFont":"Liberation Sans","titleColor":"#222"}},
"color":{"field":"s","type":"nominal","scale":{"domain":["Selector","GenomeAtScale"],"range":["#3a4ba6","#f5a32e"]},"legend":null}}},
{"transform":[{"filter":"datum.p=='q'"}],"mark":{"type":"point","filled":false,"strokeWidth":2,"size":80,"opacity":1},
"encoding":{"x":{"field":"i","type":"quantitative"},"y":{"field":"v","type":"quantitative"},
"color":{"field":"s","type":"nominal","scale":{"domain":["Selector","GenomeAtScale"],"range":["#3a4ba6","#f5a32e"]},"legend":null},
"shape":{"field":"s","type":"nominal","scale":{"domain":["Selector","GenomeAtScale"],"range":["circle","triangle-up"]},"legend":null}}},
{"transform":[{"filter":"datum.p=='q'"}],"mark":{"type":"point","filled":false,"strokeWidth":2,"size":144,"opacity":0},
"encoding":{"x":{"field":"i","type":"quantitative"},"y":{"field":"v","type":"quantitative"},
"color":{"field":"s","type":"nominal","scale":{"domain":["Selector","GenomeAtScale"],"range":["#3a4ba6","#f5a32e"]},"legend":{"orient":"none","legendX":225,"legendY":13,"title":null,"strokeColor":"#222","fillColor":"white","padding":5,"labelFont":"Liberation Serif","labelFontSize":15,"labelColor":"#222","symbolSize":144,"symbolStrokeWidth":2,"symbolOpacity":1,"rowPadding":2,"symbolOffset":12,"labelOffset":18}},
"shape":{"field":"s","type":"nominal","scale":{"domain":["Selector","GenomeAtScale"],"range":["M-3,0H-0.72M0.72,0H3M-0.72,0A0.72,0.72,0,1,1,0.72,0A0.72,0.72,0,1,1,-0.72,0","M-3,0H3M0,-0.8L0.75,0.5H-0.75Z"]},"legend":{"orient":"none","legendX":225,"legendY":13,"title":null,"strokeColor":"#222","fillColor":"white","padding":5,"labelFont":"Liberation Serif","labelFontSize":15,"labelColor":"#222","symbolSize":144,"symbolStrokeWidth":2,"symbolOpacity":1,"rowPadding":2,"symbolOffset":12,"labelOffset":18}}}},
{"data":{"values":[{}]},"mark":{"type":"rect","fill":"white","stroke":"#222","strokeWidth":1.5,"clip":false},"encoding":{"x":{"datum":6.96},"x2":{"datum":10.13},"y":{"datum":0.1295},"y2":{"datum":0.092}}},
{"data":{"values":[{}]},"mark":{"type":"text","text":["c:","N:"],"align":"right","baseline":"middle","font":"Liberation Sans","fontSize":16,"fontWeight":"bold","lineHeight":17,"color":"#111","dx":-1},"encoding":{"x":{"datum":8.19},"y":{"datum":0.1116}}},
{"data":{"values":[{}]},"mark":{"type":"text","text":["#cores","#nodes"],"align":"left","baseline":"middle","font":"Liberation Sans","fontSize":16,"lineHeight":17,"color":"#111","dx":1},"encoding":{"x":{"datum":8.19},"y":{"datum":0.1116}}}
]}
],"spacing":13,"resolve":{"scale":{"color":"independent","shape":"independent"},"legend":{"color":"independent","shape":"independent"}}}
],
"config":{
"view":{"stroke":null},
"title":{"font":"DejaVu Sans Mono","fontSize":22,"fontWeight":"normal","color":"#222","offset":2,"baseline":"alphabetic"},
"axis":{"grid":true,"gridDash":[1,2],"gridColor":"#888","gridWidth":1,"domainColor":"#444","domainWidth":1.5,"labelFont":"Liberation Sans","labelFontSize":12,"labelColor":"#333","tickColor":"#444","tickSize":-5,"labelFlush":false,"labelOverlap":false,"labelBound":false},
"axisX":{"labelPadding":11,"labelLineHeight":14,"titleX":-24,"titleY":5,"titleAlign":"left","titleBaseline":"top","titleFontSize":12,"titleFontWeight":"bold","titleFont":"Liberation Sans","titleLineHeight":14,"titleColor":"#222","titleAngle":0},
"axisY":{"labelPadding":11,"minExtent":31,"maxExtent":31}
}
}
